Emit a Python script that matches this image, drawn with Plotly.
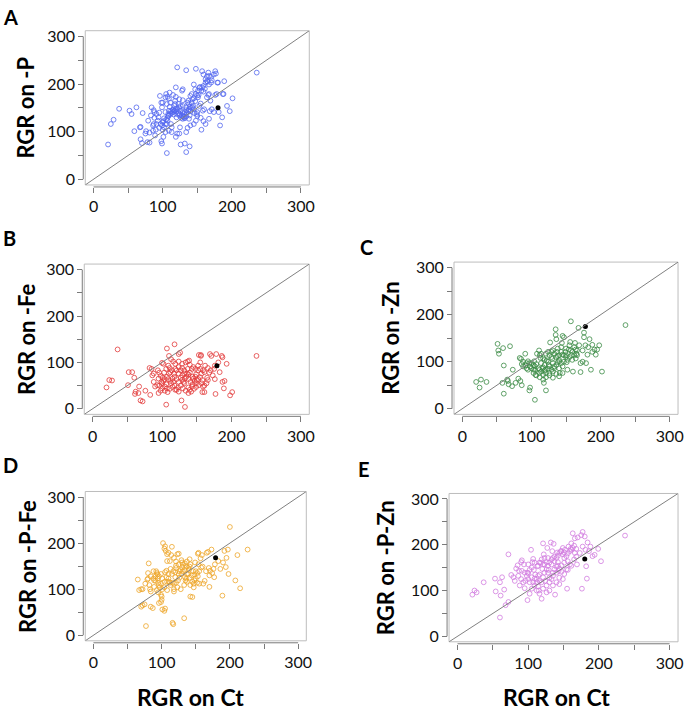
import plotly.graph_objects as go

W, H = 689, 715

tick_vals = [0, 50, 100, 150, 200, 250, 300]
tick_text = ["0", "", "100", "", "200", "", "300"]
axis_range = [-12, 312]

# RGR on Ct (x) vs RGR on treatment (y)
pts_p = [(21,73),(25,116),(29,125),(37,148),(52,144),(55,137),(62,151),(59,101),(67,109),(68,110),(68,84),(70,76),(71,139),(75,96),(78,78),(79,123),(83,134),(84,151),(86,113),(87,116),(87,145),(88,141),(81,77),(89,92),(91,116),(93,123),(94,130),(95,140),(96,175),(98,161),(99,151),(98,80),(99,75),(101,89),(102,128),(104,141),(105,179),(107,173),(106,116),(107,123),(108,137),(109,144),(110,152),(110,182),(112,116),(113,109),(106,55),(115,147),(115,141),(117,144),(118,158),(118,165),(119,193),(121,235),(120,130),(121,137),(121,96),(124,151),(125,144),(126,154),(126,73),(125,109),(128,186),(129,189),(129,127),(130,132),(131,137),(132,141),(134,145),(134,229),(134,57),(132,75),(134,99),(136,161),(137,165),(138,158),(138,127),(139,134),(139,69),(140,175),(142,179),(143,151),(144,154),(145,147),(145,199),(147,189),(148,232),(148,123),(149,137),(150,141),(151,172),(152,177),(153,154),(155,159),(156,104),(157,227),(159,220),(158,144),(160,147),(162,210),(164,216),(167,199),(164,172),(166,177),(167,179),(168,143),(169,165),(170,203),(171,208),(174,220),(176,227),(177,222),(176,177),(178,179),(171,147),(174,141),(179,203),(180,203),(181,141),(183,113),(186,130),(187,179),(188,179),(189,206),(193,154),(197,143),(201,170),(236,224),
          (97,116),(99,113),(100,120),(101,122),(102,109),(104,116),(105,125),(107,129),(108,133),(109,134),(111,137),(112,143),(113,139),(115,145),(116,136),(117,143),(119,148),(120,143),(121,147),(123,139),(124,134),(125,137),(127,129),(128,133),(129,141),(131,130),(132,128),(134,132),(135,139),(137,144),(138,147),(139,152),(141,150),(142,161),(143,168),(145,170),(147,164),(148,179),(150,176),(151,186),(153,192),(154,194),(156,186),(157,193),(159,196),(159,184),(161,190),(162,203),(164,206),(165,205),(167,217),(170,215),(166,224),
          (129,166),(124,168),(119,173),(115,177),(109,169),(104,172),(100,161),(106,158),(111,161),(117,154),(123,158),(129,154),(134,151),(140,143),(146,139),(150,133),(155,129),(159,122),(162,116),(167,127),(145,116),(140,113),(136,108),(124,96),(119,89),(113,99),(109,102),(104,99),(100,104),(95,108),(90,104),(86,102),(81,98),(76,101),(91,137),(88,129)]

pts_fe = [(20,46),(24,62),(28,61),(36,128),(52,79),(57,79),(51,51),(60,67),(62,37),(61,32),(66,34),(67,48),(69,18),(72,16),(76,39),(82,88),(85,86),(83,30),(86,72),(88,76),(88,58),(90,48),(93,51),(94,83),(96,78),(95,34),(98,39),(99,58),(100,55),(102,60),(100,99),(102,97),(104,48),(106,53),(107,44),(106,9),(107,130),(110,114),(110,76),(112,79),(113,55),(116,58),(118,50),(118,139),(119,86),(121,83),(124,90),(124,118),(126,121),(121,41),(124,37),(128,18),(129,62),(131,58),(132,55),(133,65),(133,4),(134,100),(137,102),(139,104),(136,76),(138,74),(140,78),(138,46),(140,41),(143,48),(143,86),(145,90),(148,86),(145,65),(148,69),(150,62),(152,93),(155,100),(156,114),(153,116),(156,116),(157,76),(159,83),(161,79),(159,48),(161,36),(158,36),(164,55),(166,62),(169,118),(171,114),(175,86),(176,93),(178,118),(177,32),(181,100),(183,79),(186,114),(187,111),(187,58),(189,44),(190,60),(193,97),(198,29),(201,36),(236,114),
           (95,65),(98,71),(101,67),(104,64),(107,69),(109,64),(112,60),(115,65),(118,69),(121,64),(124,58),(127,67),(129,72),(132,76),(135,69),(138,64),(141,58),(144,53),(147,60),(149,55),(152,64),(155,68),(158,62),(96,50),(100,44),(104,39),(108,36),(111,43),(115,47),(119,41),(123,46),(127,50),(130,44),(134,39),(138,34),(142,37),(146,43),(149,47),(153,51),(157,55),(161,50),(165,67),(168,78),(170,83),(173,72),(176,64),(124,76),(127,83),(129,88),(132,83),(117,76),(114,83),(111,88),(109,93),(106,86),(103,78),(152,83),(155,86),(149,74),(144,69),(140,95),(137,86),(119,97),(116,102),(113,107),(124,102),(129,97),(162,93),(166,88)]

pts_zn = [(20,57),(25,45),(27,62),(35,57),(51,138),(53,117),(59,129),(52,124),(60,32),(58,55),(60,92),(69,133),(65,62),(66,59),(67,52),(73,83),(72,48),(77,55),(81,64),(84,59),(86,50),(83,108),(85,106),(88,90),(91,117),(93,86),(95,83),(97,97),(98,45),(97,39),(100,97),(103,93),(104,101),(105,83),(106,72),(105,19),(108,117),(111,124),(111,76),(113,108),(114,97),(116,86),(117,62),(118,55),(119,93),(120,83),(121,39),(122,103),(124,100),(125,93),(126,76),(127,141),(129,110),(130,106),(131,97),(133,90),(135,169),(135,157),(136,148),(137,121),(138,112),(140,101),(140,86),(141,76),(143,131),(144,140),(145,155),(147,152),(149,121),(150,110),(151,99),(152,83),(154,126),(155,135),(156,142),(157,186),(158,114),(159,104),(160,79),(162,131),(163,140),(164,126),(165,117),(166,124),(168,172),(169,135),(171,78),(171,97),(174,100),(174,124),(176,162),(176,152),(178,135),(179,97),(181,115),(182,131),(184,148),(186,83),(188,121),(188,136),(191,126),(193,115),(195,126),(198,135),(202,79),(236,178),
           (86,95),(88,100),(91,92),(93,97),(95,101),(98,90),(100,86),(103,83),(105,90),(107,95),(110,86),(112,83),(114,79),(117,88),(119,81),(121,76),(124,85),(126,90),(129,83),(131,79),(133,86),(136,93),(138,99),(140,104),(143,97),(145,90),(147,100),(150,114),(152,104),(155,110),(157,124),(159,121),(162,114),(164,107),(166,114),(112,114),(114,117),(117,107),(119,104),(121,117),(124,121),(126,114),(129,121),(131,124),(133,117),(136,110),(138,128),(140,114),(143,121),(145,115),(147,114),(150,128),(103,76),(107,71),(112,67),(117,72),(121,67),(126,71),(131,66),(136,74),(140,69),(145,76)]

pts_pfe = [(65,121),(67,98),(70,100),(72,100),(70,62),(72,65),(75,67),(76,112),(79,121),(80,135),(77,20),(81,156),(82,109),(83,100),(84,95),(84,62),(87,59),(88,123),(89,119),(91,128),(92,139),(93,135),(94,132),(95,114),(96,109),(97,104),(96,70),(99,72),(100,77),(99,88),(100,84),(101,56),(104,53),(105,58),(102,200),(104,188),(105,193),(106,183),(108,176),(110,179),(107,126),(108,116),(110,123),(111,116),(112,161),(113,144),(115,192),(116,114),(118,100),(118,95),(116,27),(117,24),(120,137),(121,151),(121,146),(123,176),(125,177),(125,133),(126,139),(128,142),(129,163),(130,158),(131,153),(133,37),(134,126),(135,119),(136,123),(137,133),(139,146),(140,142),(141,149),(142,154),(142,84),(145,83),(145,116),(147,112),(148,119),(150,139),(152,135),(153,177),(154,179),(155,112),(157,167),(159,174),(161,112),(163,118),(166,179),(168,181),(169,146),(170,105),(171,140),(173,186),(176,144),(177,126),(178,154),(183,161),(186,144),(189,86),(190,158),(192,183),(194,148),(195,168),(197,186),(198,133),(200,235),(208,119),(211,174),(215,102),(226,186),
            (80,123),(84,128),(88,139),(91,118),(94,123),(96,128),(99,133),(101,123),(104,116),(105,137),(107,140),(110,133),(112,114),(115,133),(117,139),(120,126),(121,114),(124,119),(126,125),(129,133),(131,139),(134,142),(136,149),(139,133),(141,125),(144,130),(146,139),(148,132),(150,123),(153,128),(155,139),(158,147),(99,112),(104,104),(108,98),(113,109),(118,112),(123,104),(128,100),(133,109),(137,116),(142,109),(147,104),(152,114),(125,154),(130,147),(134,156),(137,160),(141,165),(121,160),(118,168),(114,174),(108,161),(149,158),(154,154),(160,149),(165,139),(170,130),(174,135),(89,105),(93,98),(95,93),(101,100)]

pts_pzn = [(21,91),(24,100),(27,96),(37,118),(53,126),(54,98),(60,118),(61,89),(60,41),(63,129),(66,102),(68,68),(72,75),(72,179),(76,134),(79,129),(81,121),(83,148),(85,155),(87,143),(88,111),(90,162),(91,166),(94,157),(95,105),(98,132),(99,139),(100,125),(102,118),(104,189),(99,79),(102,93),(105,104),(106,162),(107,169),(108,145),(109,126),(110,135),(112,118),(113,153),(114,109),(115,100),(116,135),(118,161),(119,82),(120,147),(121,203),(122,179),(123,157),(124,121),(126,111),(127,193),(128,171),(129,145),(130,128),(132,205),(133,157),(134,186),(135,139),(136,202),(137,174),(138,91),(140,152),(141,183),(142,162),(143,143),(144,128),(146,186),(147,155),(149,193),(151,171),(151,161),(152,189),(154,146),(155,104),(156,164),(157,196),(159,157),(160,191),(161,203),(163,225),(165,198),(166,214),(168,191),(169,157),(170,216),(173,182),(175,221),(176,104),(177,228),(177,196),(180,218),(181,189),(182,153),(183,126),(184,205),(186,186),(188,196),(191,175),(194,178),(199,191),(203,164),(237,220),
            (86,132),(90,125),(93,118),(96,121),(100,138),(102,145),(105,129),(107,118),(109,111),(112,125),(114,132),(116,121),(119,118),(121,129),(123,139),(126,146),(128,154),(130,161),(133,168),(135,171),(137,164),(140,171),(142,176),(144,182),(147,186),(149,179),(151,183),(154,175),(156,181),(159,186),(161,189),(163,193),(166,182),(128,139),(130,118),(133,125),(135,132),(137,146),(140,139),(142,154),(144,148),(147,141),(151,136),(156,145),(161,154),(165,168),(168,174),(114,154),(116,161),(119,168),(121,157),(123,171),(126,162),(109,161),(105,150),(100,157),(95,139),(91,143),(112,100),(116,93),(121,104),(126,96),(130,100),(135,111),(140,118),(144,114),(149,125)]

# highlighted reference genotype (black dot)
ref_p = (180, 150)
ref_fe = (179, 93)
ref_zn = (178, 175)
ref_pfe = (179, 168)
ref_pzn = (180, 169)

panels = [
    dict(letter="A", ytitle="RGR on -P", pts=pts_p, ref=ref_p, color="#5266ef",
         box=(86, 312, 26, 182), ytx=26, lx=11, ly=12),
    dict(letter="B", ytitle="RGR on -Fe", pts=pts_fe, ref=ref_fe, color="#e23a3a",
         box=(85, 312, 262, 414), ytx=26, lx=10, ly=236),
    dict(letter="C", ytitle="RGR on -Zn", pts=pts_zn, ref=ref_zn, color="#3a8a44",
         box=(458, 684, 260, 414), ytx=394, lx=370, ly=245),
    dict(letter="D", ytitle="RGR on -P-Fe", pts=pts_pfe, ref=ref_pfe, color="#eea62a",
         box=(86, 309, 492, 643), ytx=27, lx=11, ly=465),
    dict(letter="E", ytitle="RGR on -P-Zn", pts=pts_pzn, ref=ref_pzn, color="#d27ce0",
         box=(453, 684, 494, 644), ytx=389, lx=367, ly=469),
]

xtitles = [dict(text="RGR on Ct", x=192, y=700), dict(text="RGR on Ct", x=561, y=700)]

fig = go.Figure()
shapes, annotations = [], []
layout_axes = {}
FONT = "Lato, Carlito, Calibri, sans-serif"
AX_COL = "#7a7a7a"

for i, p in enumerate(panels, start=1):
    xn = "x" if i == 1 else f"x{i}"
    yn = "y" if i == 1 else f"y{i}"
    xk = "xaxis" if i == 1 else f"xaxis{i}"
    yk = "yaxis" if i == 1 else f"yaxis{i}"
    x0, x1, y0, y1 = p["box"]
    xpos = 1 - (y1 + 2) / H
    ypos = (x0 - 2) / W
    common = dict(range=axis_range, tickvals=tick_vals, ticktext=tick_text,
                  ticks="outside", ticklen=5, tickcolor=AX_COL, tickwidth=1,
                  showgrid=False, zeroline=False, showline=False,
                  tickfont=dict(family=FONT, size=16, color="#111111"),
                  anchor="free", fixedrange=True, ticklabeloverflow="allow")
    layout_axes[xk] = dict(domain=[x0 / W, x1 / W], position=xpos, **common)
    layout_axes[yk] = dict(domain=[1 - y1 / H, 1 - y0 / H], position=ypos, **common)

    xs = [a for a, b in p["pts"]]
    ys = [b for a, b in p["pts"]]
    fig.add_trace(go.Scatter(x=xs, y=ys, mode="markers", xaxis=xn, yaxis=yn,
                             marker=dict(symbol="circle-open", size=4.8, color=p["color"],
                                         line=dict(width=0.8, color=p["color"])),
                             showlegend=False, hoverinfo="skip"))
    fig.add_trace(go.Scatter(x=[p["ref"][0]], y=[p["ref"][1]], mode="markers",
                             xaxis=xn, yaxis=yn,
                             marker=dict(symbol="circle", size=5, color="black"),
                             showlegend=False, hoverinfo="skip"))
    # plot frame
    shapes.append(dict(type="rect", xref=f"{xn} domain", yref=f"{yn} domain",
                       x0=0, x1=1, y0=0, y1=1, line=dict(color="#bdbdbd", width=1),
                       layer="below"))
    # 1:1 line
    shapes.append(dict(type="line", xref=xn, yref=yn,
                       x0=axis_range[0], y0=axis_range[0], x1=axis_range[1], y1=axis_range[1],
                       line=dict(color="#808080", width=1)))
    # axis lines spanning first to last tick
    shapes.append(dict(type="line", xref=xn, yref="paper", x0=tick_vals[0], x1=tick_vals[-1],
                       y0=xpos, y1=xpos, line=dict(color=AX_COL, width=1)))
    shapes.append(dict(type="line", xref="paper", yref=yn, x0=ypos, x1=ypos,
                       y0=tick_vals[0], y1=tick_vals[-1], line=dict(color=AX_COL, width=1)))
    annotations.append(dict(text=f"<b>{p['ytitle']}</b>", xref="paper", yref="paper",
                            x=p["ytx"] / W, y=1 - (y0 + y1) / 2 / H, textangle=-90,
                            xanchor="center", yanchor="middle", showarrow=False,
                            font=dict(family=FONT, size=22, color="black")))
    annotations.append(dict(text=f"<b>{p['letter']}</b>", xref="paper", yref="paper",
                            x=p["lx"] / W, y=1 - p["ly"] / H, xanchor="center",
                            yanchor="middle", showarrow=False,
                            font=dict(family=FONT, size=20, color="black")))

for t in xtitles:
    annotations.append(dict(text=f"<b>{t['text']}</b>", xref="paper", yref="paper",
                            x=t["x"] / W, y=1 - t["y"] / H, xanchor="center",
                            yanchor="middle", showarrow=False,
                            font=dict(family=FONT, size=23, color="black")))

fig.update_layout(width=W, height=H, autosize=False,
                  margin=dict(l=0, r=0, t=0, b=0, pad=0),
                  paper_bgcolor="white", plot_bgcolor="white",
                  shapes=shapes, annotations=annotations, **layout_axes)

fig.write_html("out.html", config={"displayModeBar": False, "staticPlot": True},
               post_script="document.body.style.margin='0';document.body.style.overflow='hidden';")
